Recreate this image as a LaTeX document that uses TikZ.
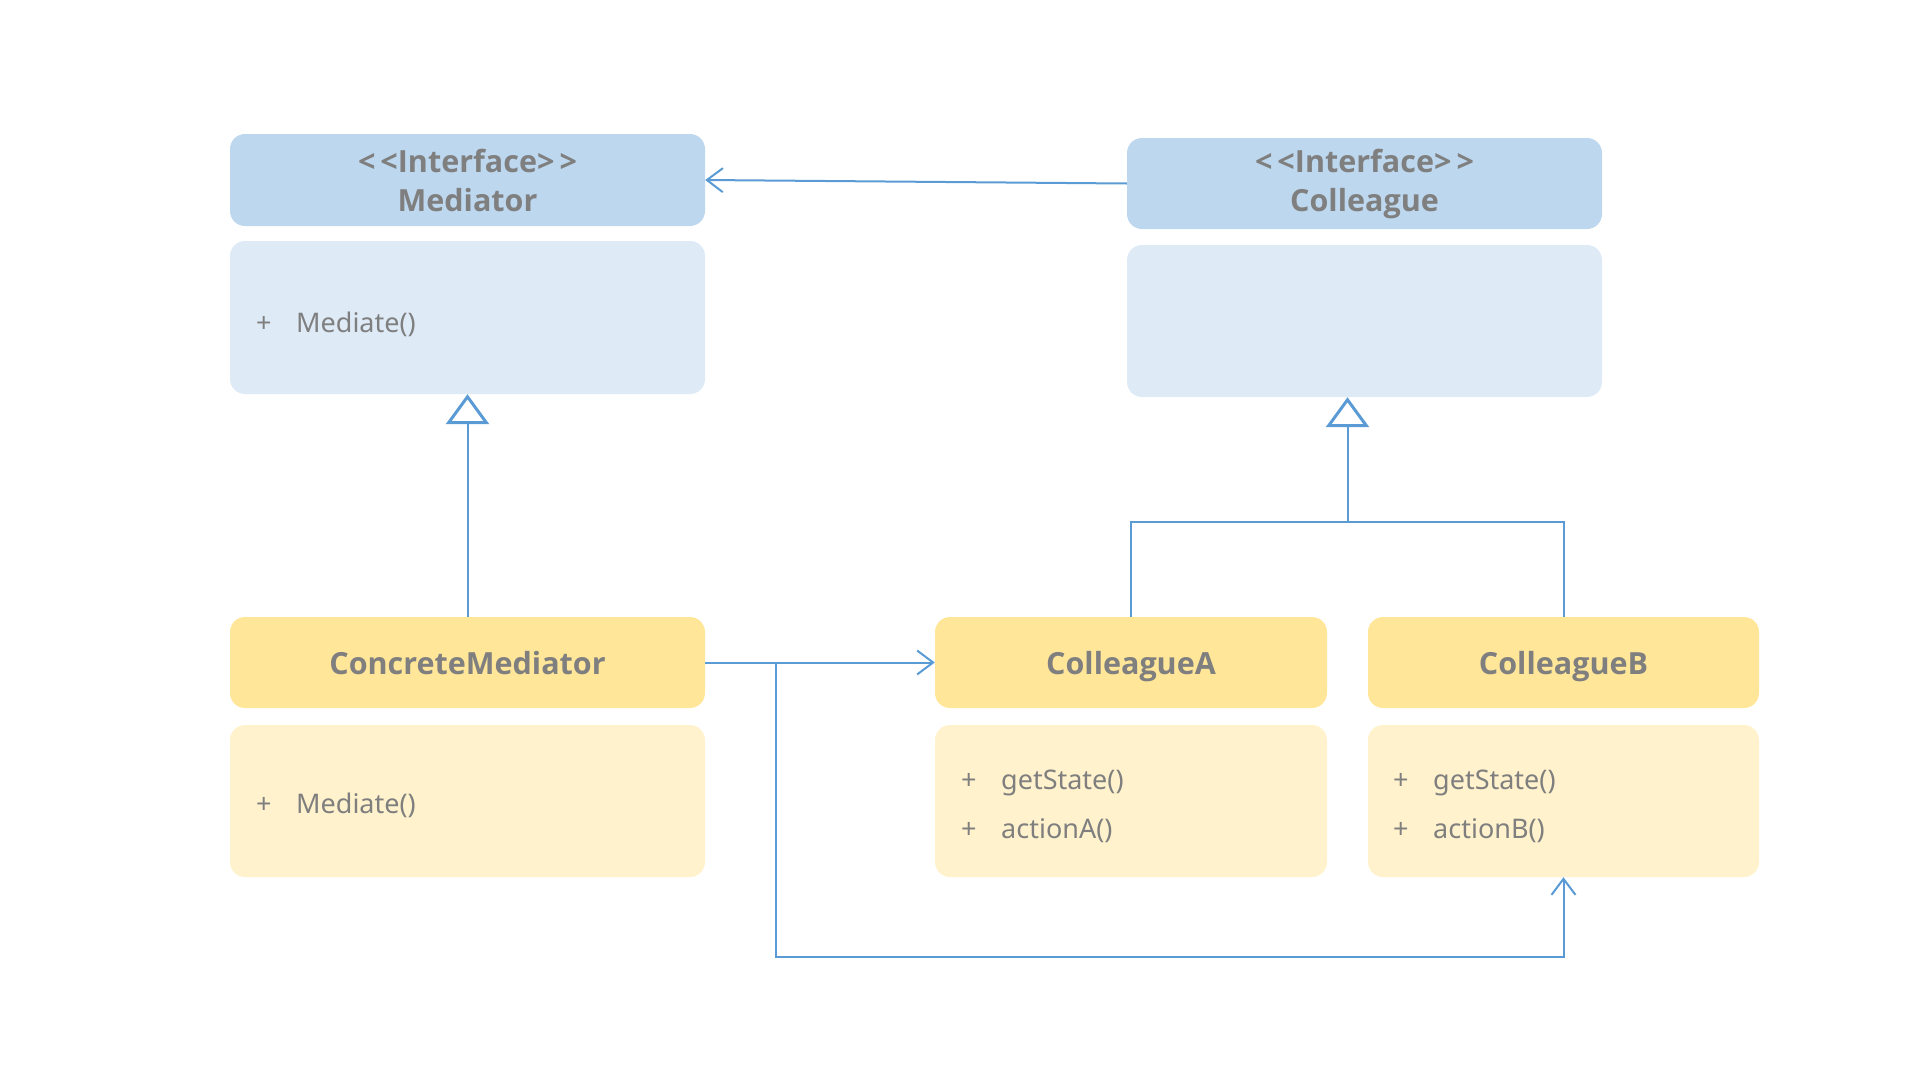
\documentclass[tikz,border=0pt]{standalone}
\usepackage{fontspec}
\setmainfont{Noto Sans}
\newfontfamily\hdrfont{Open Sans}
\usetikzlibrary{arrows.meta}
\definecolor{hdrblue}{HTML}{BDD7EE}
\definecolor{bodyblue}{HTML}{DEEBF7}
\definecolor{hdryellow}{HTML}{FFE699}
\definecolor{bodyyellow}{HTML}{FFF2CC}
\definecolor{txtgray}{HTML}{7F7F7F}
\definecolor{linkblue}{HTML}{5B9BD5}
\tikzset{
  box/.style={rectangle, rounded corners=15pt, inner sep=0pt, text=txtgray},
  hdr/.style={box, font=\hdrfont\fontsize{30.5}{39}\selectfont\bfseries, align=center},
  onehdr/.style={hdr, text height=30pt, text depth=7pt},
  item/.style={anchor=base west, inner sep=0pt, text=txtgray, font=\fontsize{27}{32}\selectfont},
  link/.style={draw=linkblue, line width=2pt},
  assoc/.style={link, -{Straight Barb[length=16pt,width=24pt,line width=2pt]}},
  inherit/.style={link, -{Triangle[open,length=30pt,width=43pt,line width=3pt]}},
}
\newcommand{\plusitem}[1]{\makebox[40pt][l]{+}#1}
\begin{document}
\begin{tikzpicture}[x=1pt, y=-1pt]
  \useasboundingbox (0,0) rectangle (1920,1082);

  % interface Mediator
  \node[hdr, fill=hdrblue, minimum width=475pt, minimum height=92pt] (med) at (467.5,180) {<\,<Interface>\,>\\Mediator};
  \node[box, fill=bodyblue, minimum width=475pt, minimum height=153pt] (medb) at (467.5,317.5) {};
  \node[item] (medm) at (256,332) {\plusitem{Mediate()}};

  % interface Colleague
  \node[hdr, fill=hdrblue, minimum width=475pt, minimum height=91pt] (col) at (1364.5,183.5) {<\,<Interface>\,>\\Colleague};
  \node[box, fill=bodyblue, minimum width=475pt, minimum height=152pt] (colb) at (1364.5,321) {};

  % ConcreteMediator
  \node[onehdr, fill=hdryellow, minimum width=475pt, minimum height=91pt] (cm) at (467.5,662.5) {ConcreteMediator};
  \node[box, fill=bodyyellow, minimum width=475pt, minimum height=152pt] (cmb) at (467.5,801) {};
  \node[item] (cmm) at (256,813) {\plusitem{Mediate()}};

  % ColleagueA
  \node[onehdr, fill=hdryellow, minimum width=392pt, minimum height=91pt] (ca) at (1131,662.5) {ColleagueA};
  \node[box, fill=bodyyellow, minimum width=392pt, minimum height=152pt] (cab) at (1131,801) {};
  \node[item] (cas) at (961,789) {\plusitem{getState()}};
  \node[item] (caa) at (961,838) {\plusitem{actionA()}};

  % ColleagueB
  \node[onehdr, fill=hdryellow, minimum width=391pt, minimum height=91pt] (cb) at (1563.5,662.5) {ColleagueB};
  \node[box, fill=bodyyellow, minimum width=391pt, minimum height=152pt] (cbb) at (1563.5,801) {};
  \node[item] (cbs) at (1393,789) {\plusitem{getState()}};
  \node[item] (cba) at (1393,838) {\plusitem{actionB()}};

  % connector branch points
  \coordinate (gen) at (1347.5,522);
  \coordinate (split) at (776,663);
  \coordinate (low) at (776,957);

  % Colleague knows Mediator
  \draw[assoc] (col.west) -- (med.east);

  % realisations
  \draw[inherit] (cm.north) -- (medb.south);
  \draw[link] (ca.north) |- (gen);
  \draw[link] (cb.north) |- (gen);
  \draw[inherit] (gen) -- (gen |- colb.south);

  % ConcreteMediator knows its colleagues
  \draw[assoc] (cm.east) -- (ca.west);
  \draw[assoc] (split) -- (low) -| (cbb.south);
\end{tikzpicture}
\end{document}
